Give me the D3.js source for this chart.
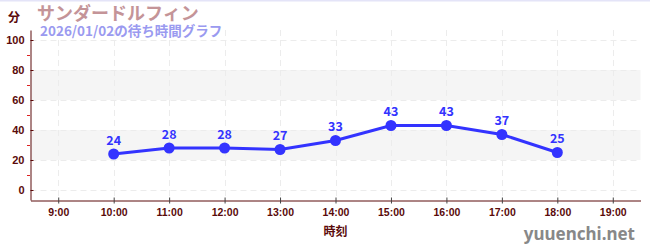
<!DOCTYPE html>
<html>
<head>
<meta charset="utf-8">
<script src="https://cdn.jsdelivr.net/npm/d3@7"></script>
<style>
  body { margin: 0; background: #fff; }
  svg text { font-family: "Noto Sans CJK JP", "Noto Sans", sans-serif; }
</style>
</head>
<body>
<div id="chart"></div>
<script>
// data
const hours = [10, 11, 12, 13, 14, 15, 16, 17, 18]
const waits = [24, 28, 28, 27, 33, 43, 43, 37, 25]
const xTicks = [9, 10, 11, 12, 13, 14, 15, 16, 17, 18, 19]
const yTicks = [0, 20, 40, 60, 80, 100]
const yMinor = [10, 30, 50, 70, 90]
const bands = [[20, 40], [60, 80]]

const title = 'サンダードルフィン'
const subtitle = '2026/01/02の待ち時間グラフ'

const width = 650, height = 250
const dark = '#5a0a0a'

const svg = d3.select('#chart')
    .append('svg')
    .attr('width', width)
    .attr('height', height)

// top border line
svg.append('rect')
    .attr('x', 0).attr('y', 0)
    .attr('width', width).attr('height', 1.5)
    .attr('fill', '#e4e4f8')

const x = d3.scaleLinear().domain([8.5, 19.5]).range([30.5, 640.5])
const y = d3.scaleLinear().domain([-6.67, 106.67]).range([200, 30])

// bands
svg.append('g')
    .selectAll('rect')
    .data(bands)
    .enter()
    .append('rect')
    .attr('x', x(8.5))
    .attr('width', x(19.5) - x(8.5))
    .attr('y', d => y(d[1]))
    .attr('height', d => y(d[0]) - y(d[1]))
    .attr('fill', '#f5f5f5')

// grid
const grid = svg.append('g')
    .attr('stroke', '#ececec')
    .attr('stroke-dasharray', '6,4')
grid.selectAll('.hg')
    .data(yTicks)
    .enter()
    .append('line')
    .attr('x1', x(8.5)).attr('x2', x(19.5))
    .attr('y1', d => Math.round(y(d)) + 0.5)
    .attr('y2', d => Math.round(y(d)) + 0.5)
grid.selectAll('.vg')
    .data(xTicks)
    .enter()
    .append('line')
    .attr('y1', y(106.67)).attr('y2', y(-6.67))
    .attr('x1', d => Math.round(x(d)) + 0.5)
    .attr('x2', d => Math.round(x(d)) + 0.5)

// y axis
const yAxis = svg.append('g')
    .attr('transform', 'translate(30.5,0)')
    .call(d3.axisLeft(y).tickValues(yTicks).tickSize(4).tickSizeOuter(0))
yAxis.select('.domain').attr('stroke', dark)
yAxis.selectAll('.tick line').attr('stroke', dark).attr('x2', 3)
yAxis.selectAll('.tick text')
    .attr('fill', dark)
    .attr('font-size', 11)
    .attr('font-weight', 'bold')
    .attr('x', -6)
    .style('font-family', '"Liberation Sans", sans-serif')

svg.append('g')
    .selectAll('line')
    .data(yMinor)
    .enter()
    .append('line')
    .attr('x1', 27).attr('x2', 30)
    .attr('y1', d => Math.round(y(d)) + 0.5)
    .attr('y2', d => Math.round(y(d)) + 0.5)
    .attr('stroke', '#dd2222')

// x axis
const xAxis = svg.append('g')
    .attr('transform', 'translate(0,200.5)')
    .call(d3.axisBottom(x).tickValues(xTicks).tickFormat(d => d + ':00').tickSize(3).tickSizeOuter(0))
xAxis.select('.domain').attr('stroke', dark)
xAxis.selectAll('.tick line').attr('stroke', '#444').attr('y1', -3).attr('y2', 3)
xAxis.selectAll('.tick text')
    .attr('fill', dark)
    .attr('font-size', 10.5)
    .attr('font-weight', 'bold')
    .attr('dy', '0.95em')
    .style('font-family', '"Liberation Sans", sans-serif')

// line
const pts = hours.map((h, i) => [h, waits[i]])
svg.append('path')
    .datum(pts)
    .attr('fill', 'none')
    .attr('stroke', '#3333ff')
    .attr('stroke-width', 3)
    .attr('d', d3.line().x(d => x(d[0])).y(d => y(d[1])))

svg.append('g')
    .selectAll('circle')
    .data(pts)
    .enter()
    .append('circle')
    .attr('cx', d => x(d[0]))
    .attr('cy', d => y(d[1]))
    .attr('r', 5.5)
    .attr('fill', '#3333ff')

svg.append('g')
    .selectAll('text')
    .data(pts)
    .enter()
    .append('text')
    .attr('x', d => x(d[0]))
    .attr('y', d => y(d[1]) - 9)
    .attr('text-anchor', 'middle')
    .attr('fill', '#3333ff')
    .attr('font-size', 12.5)
    .attr('font-weight', 'bold')
    .text(d => d[1])

// texts
svg.append('text')
    .attr('x', 14).attr('y', 22)
    .attr('text-anchor', 'middle')
    .attr('fill', dark)
    .attr('font-size', 12)
    .attr('font-weight', 'bold')
    .text('分')

svg.append('text')
    .attr('x', 37).attr('y', 20)
    .attr('fill', '#c49498')
    .attr('font-size', 18)
    .attr('font-weight', 'bold')
    .text(title)

svg.append('text')
    .attr('x', 40).attr('y', 36)
    .attr('fill', '#9a9af0')
    .attr('font-size', 13.5)
    .attr('font-weight', 'bold')
    .text(subtitle)

svg.append('text')
    .attr('x', x(14)).attr('y', 236)
    .attr('text-anchor', 'middle')
    .attr('fill', dark)
    .attr('font-size', 12)
    .attr('font-weight', 'bold')
    .text('時刻')

svg.append('text')
    .attr('x', 635).attr('y', 240)
    .attr('text-anchor', 'end')
    .attr('fill', '#888')
    .attr('font-size', 17)
    .attr('font-weight', 'bold')
    .style('font-family', '"Noto Sans", sans-serif')
    .text('yuuenchi.net')
</script>
</body>
</html>
